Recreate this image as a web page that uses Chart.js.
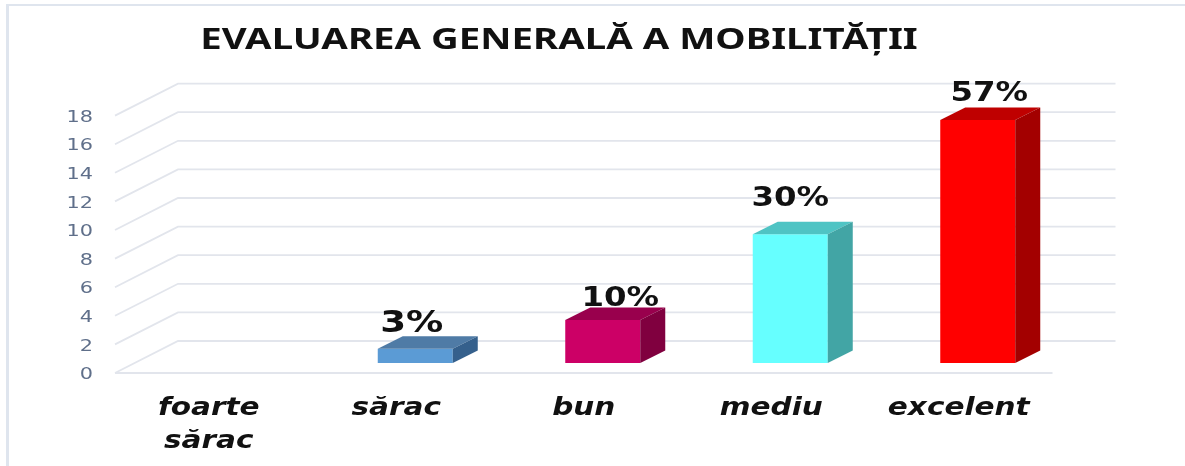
<!DOCTYPE html>
<html>
<head>
<meta charset="utf-8">
<style>
html, body { margin: 0; padding: 0; background: #fff; }
#wrap { width: 1185px; height: 466px; }
</style>
<script src="https://cdn.jsdelivr.net/npm/chart.js@4"></script>
</head>
<body>
<div id="wrap"><canvas id="chart" width="1185" height="466"></canvas></div>
<script>
const categories = [['foarte', 'sărac'], 'sărac', 'bun', 'mediu', 'excelent'];
const values = [0, 1, 3, 9, 17];
const percentLabels = ['', '3%', '10%', '30%', '57%'];
const frontColors = ['#5b9bd5', '#5b9bd5', '#cc0066', '#66ffff', '#ff0000'];
const topColors = ['#4f7ba6', '#4f7ba6', '#99004d', '#4fc4c4', '#bf0000'];
const sideColors = ['#35608c', '#35608c', '#80003f', '#42a5a5', '#a30000'];

// wall is pushed back from the axis, bars stand half way in
const wallDx = 63, wallDy = -32;
const barDx = 19, barDy = -10;
const depthDx = 25, depthDy = -12.5;
const gridColor = '#e2e5ec';
const frameColor = '#dfe5ee';

// the labels were placed by hand in the original, so each has its own nudge
const labelNudgeX = [0, -3.5, 17.5, 0, 11.5];
const labelLift = [0, 17, 14, 28, 19];
const labelSize = [27, 31, 27, 27, 27];

// all text in the reference is stretched sideways, so patch fillText during the draw call
function stretched(obj, method, sx, dy) {
    const orig = obj[method];
    obj[method] = function (...args) {
        const ctx = this.ctx;
        const fill = ctx.fillText;
        ctx.fillText = function (text, x, y) {
            ctx.save();
            ctx.translate(x, y + dy);
            ctx.scale(sx, 1);
            fill.call(ctx, text, 0, 0);
            ctx.restore();
        };
        orig.apply(this, args);
        delete ctx.fillText;
    };
}

const walls = {
    id: 'walls',
    afterLayout(chart) {
        // title sits left of the plot centre
        chart.titleBlock.left = 0;
        chart.titleBlock.right = 1118;
        stretched(chart.titleBlock, 'draw', 1.37, 0);
        stretched(chart.scales.x, 'drawLabels', 1.23, 0);
        stretched(chart.scales.y, 'drawLabels', 1.3, 2);
    },
    beforeDraw(chart) {
        const ctx = chart.ctx;
        ctx.save();
        ctx.fillStyle = frameColor;
        ctx.fillRect(6, 4, 1179, 2);
        ctx.fillRect(6, 4, 3, 462);
        ctx.restore();
    },
    beforeDatasetsDraw(chart) {
        const { ctx, scales: { x, y } } = chart;
        ctx.save();
        ctx.strokeStyle = gridColor;
        ctx.lineWidth = 1.8;
        y.ticks.forEach(t => {
            const py = y.getPixelForValue(t.value);
            ctx.beginPath();
            ctx.moveTo(x.left, py);
            ctx.lineTo(x.left + wallDx, py + wallDy);
            ctx.lineTo(x.right + wallDx, py + wallDy);
            ctx.stroke();
        });
        const base = y.getPixelForValue(0);
        ctx.beginPath();
        ctx.moveTo(x.left, base);
        ctx.lineTo(x.right, base);
        ctx.stroke();
        ctx.restore();
    },
    beforeDatasetDraw(chart) {
        chart.ctx.save();
        chart.ctx.translate(barDx, barDy);
    },
    afterDatasetDraw(chart) {
        const ctx = chart.ctx;
        chart.getDatasetMeta(0).data.forEach((bar, i) => {
            if (!values[i]) return;
            const half = bar.width / 2;
            const l = bar.x - half, r = bar.x + half, t = bar.y, b = bar.base;
            ctx.fillStyle = topColors[i];
            ctx.beginPath();
            ctx.moveTo(l, t);
            ctx.lineTo(l + depthDx, t + depthDy);
            ctx.lineTo(r + depthDx, t + depthDy);
            ctx.lineTo(r, t);
            ctx.closePath();
            ctx.fill();
            ctx.fillStyle = sideColors[i];
            ctx.beginPath();
            ctx.moveTo(r, t);
            ctx.lineTo(r + depthDx, t + depthDy);
            ctx.lineTo(r + depthDx, b + depthDy);
            ctx.lineTo(r, b);
            ctx.closePath();
            ctx.fill();
        });
        ctx.restore();
    },
    afterDatasetsDraw(chart) {
        const ctx = chart.ctx;
        chart.getDatasetMeta(0).data.forEach((bar, i) => {
            if (!percentLabels[i]) return;
            ctx.save();
            ctx.translate(bar.x + barDx + labelNudgeX[i], bar.y + barDy - labelLift[i]);
            ctx.scale(1.2, 1);
            ctx.font = 'bold ' + labelSize[i] + 'px "DejaVu Sans"';
            ctx.fillStyle = '#111';
            ctx.textAlign = 'center';
            ctx.textBaseline = 'alphabetic';
            ctx.fillText(percentLabels[i], 0, 0);
            ctx.restore();
        });
    }
};

new Chart(document.getElementById('chart'), {
    type: 'bar',
    data: {
        labels: categories,
        datasets: [{
            data: values,
            backgroundColor: frontColors,
            barPercentage: 0.4,
            categoryPercentage: 1
        }]
    },
    options: {
        responsive: false,
        animation: false,
        layout: { padding: { left: 0, right: 132.5, top: 0, bottom: 0 } },
        plugins: {
            legend: { display: false },
            tooltip: { enabled: false },
            title: {
                display: true,
                text: 'EVALUAREA GENERALĂ A MOBILITĂȚII',
                color: '#111',
                font: { family: '"Noto Sans"', size: 28, weight: 'bold' },
                padding: { top: 24, bottom: 58 }
            }
        },
        scales: {
            x: {
                grid: { display: false },
                border: { display: false },
                afterFit(scale) { scale.height = 93; },
                ticks: {
                    color: '#111',
                    padding: 11,
                    maxRotation: 0,
                    autoSkip: false,
                    font: { family: '"DejaVu Sans"', size: 24, style: 'italic', weight: 'bold', lineHeight: 1.37 }
                }
            },
            y: {
                min: 0,
                max: 18,
                grid: { display: false },
                border: { display: false },
                afterFit(scale) { scale.width = 115; },
                ticks: {
                    stepSize: 2,
                    color: '#5f6f8a',
                    padding: 14,
                    font: { family: '"DejaVu Sans"', size: 16 }
                }
            }
        }
    },
    plugins: [walls]
});
</script>
</body>
</html>
